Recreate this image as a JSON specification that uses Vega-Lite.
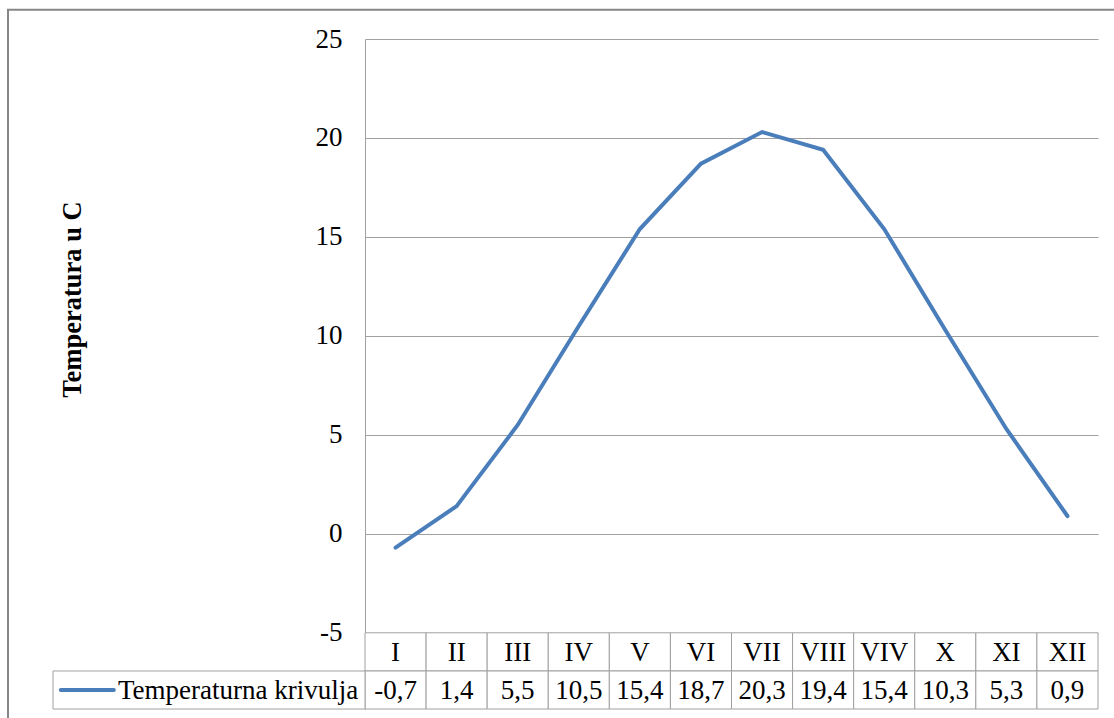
{
  "$schema": "https://vega.github.io/schema/vega-lite/v6.json",
  "width": 733,
  "height": 670,
  "autosize": {"type": "none"},
  "padding": {"left": 365, "top": 39, "right": 16, "bottom": 9},
  "background": "white",
  "config": {
    "view": {"stroke": null},
    "font": "Liberation Serif, Times New Roman, serif",
    "locale": {"number": {"decimal": ",", "thousands": ".", "grouping": [3], "currency": ["", ""], "minus": "-"}},
    "axisY": {
      "grid": true, "gridColor": "#A0A0A0", "gridWidth": 1,
      "domain": true, "domainColor": "#A0A0A0", "domainWidth": 1,
      "ticks": false,
      "labelFont": "Liberation Serif, Times New Roman, serif", "labelFontSize": 27, "labelColor": "black",
      "labelPadding": 23,
      "titleFont": "Liberation Serif, Times New Roman, serif", "titleFontSize": 26.5, "titleFontWeight": "bold",
      "titleColor": "black", "titleX": -293, "titleY": 260, "titleBaseline": "middle"
    }
  },
  "resolve": {"scale": {"x": "independent"}},
  "layer": [
    {
      "data": {"values": [
        {"month": "I", "temp": -0.7},
        {"month": "II", "temp": 1.4},
        {"month": "III", "temp": 5.5},
        {"month": "IV", "temp": 10.5},
        {"month": "V", "temp": 15.4},
        {"month": "VI", "temp": 18.7},
        {"month": "VII", "temp": 20.3},
        {"month": "VIII", "temp": 19.4},
        {"month": "VIV", "temp": 15.4},
        {"month": "X", "temp": 10.3},
        {"month": "XI", "temp": 5.3},
        {"month": "XII", "temp": 0.9}
      ]},
      "layer": [
        {
          "mark": {"type": "rect", "fill": "white", "stroke": "#A0A0A0", "strokeWidth": 1},
          "encoding": {
            "x": {"field": "month", "type": "nominal", "sort": null,
                  "scale": {"type": "band", "paddingInner": 0, "paddingOuter": 0,
                            "domain": ["I","II","III","IV","V","VI","VII","VIII","VIV","X","XI","XII"]},
                  "axis": null},
            "y": {"datum": -5, "type": "quantitative", "title": "Temperatura u C",
                  "scale": {"domain": [-8.85, 25], "nice": false, "zero": false},
                  "axis": {"values": [-5, 0, 5, 10, 15, 20, 25]}},
            "y2": {"datum": -6.93}
          }
        },
        {
          "mark": {"type": "rect", "fill": "white", "stroke": "#A0A0A0", "strokeWidth": 1},
          "encoding": {
            "x": {"field": "month", "type": "nominal", "sort": null, "axis": null},
            "y": {"datum": -6.93, "type": "quantitative", "title": "Temperatura u C"},
            "y2": {"datum": -8.85}
          }
        },
        {
          "mark": {"type": "text", "align": "center", "baseline": "middle", "dy": 1,
                   "font": "Liberation Serif, Times New Roman, serif", "fontSize": 27, "color": "black"},
          "encoding": {
            "x": {"field": "month", "type": "nominal", "sort": null, "axis": null, "bandPosition": 0.5},
            "y": {"datum": -5.965, "type": "quantitative", "title": "Temperatura u C"},
            "text": {"field": "month"}
          }
        },
        {
          "mark": {"type": "text", "align": "center", "baseline": "middle", "dy": 1,
                   "font": "Liberation Serif, Times New Roman, serif", "fontSize": 27, "color": "black"},
          "encoding": {
            "x": {"field": "month", "type": "nominal", "sort": null, "axis": null, "bandPosition": 0.5},
            "y": {"datum": -7.89, "type": "quantitative", "title": "Temperatura u C"},
            "text": {"field": "temp", "type": "quantitative", "format": ".1f"}
          }
        },
        {
          "mark": {"type": "line", "color": "#4A7EBB", "strokeWidth": 4, "strokeCap": "round"},
          "encoding": {
            "x": {"field": "month", "type": "nominal", "sort": null, "axis": null, "bandPosition": 0.5},
            "y": {"field": "temp", "type": "quantitative", "title": "Temperatura u C"}
          }
        }
      ]
    },
    {
      "data": {"values": [{"series": "Temperaturna krivulja"}]},
      "layer": [
        {
          "mark": {"type": "rect", "filled": false, "stroke": "#868686", "strokeWidth": 2},
          "encoding": {
            "x": {"datum": -0.1442, "type": "quantitative",
                  "scale": {"domain": [0, 1], "range": [-312, 0], "nice": false, "zero": false},
                  "axis": null},
            "x2": {"datum": 3.5},
            "y": {"datum": 26.48, "type": "quantitative", "title": "Temperatura u C"},
            "y2": {"datum": -12}
          }
        },
        {
          "mark": {"type": "rect", "fill": "white", "stroke": "#A0A0A0", "strokeWidth": 1},
          "encoding": {
            "x": {"datum": 0, "type": "quantitative", "axis": null},
            "x2": {"datum": 1},
            "y": {"datum": -6.93, "type": "quantitative", "title": "Temperatura u C"},
            "y2": {"datum": -8.85}
          }
        },
        {
          "mark": {"type": "point", "shape": "stroke", "size": 2809, "filled": false,
                   "stroke": "#4A7EBB", "strokeWidth": 4, "strokeCap": "round", "opacity": 1},
          "encoding": {
            "x": {"datum": 0.11, "type": "quantitative", "axis": null},
            "y": {"datum": -7.89, "type": "quantitative", "title": "Temperatura u C"}
          }
        },
        {
          "mark": {"type": "text", "align": "left", "baseline": "middle", "dy": 1,
                   "font": "Liberation Serif, Times New Roman, serif", "fontSize": 27, "color": "black"},
          "encoding": {
            "x": {"datum": 0.208, "type": "quantitative", "axis": null},
            "y": {"datum": -7.89, "type": "quantitative", "title": "Temperatura u C"},
            "text": {"field": "series"}
          }
        }
      ]
    }
  ]
}
